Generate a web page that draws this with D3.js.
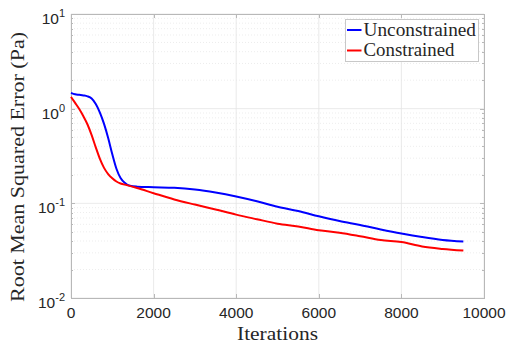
<!DOCTYPE html>
<html>
<head>
<meta charset="utf-8">
<script src="https://cdn.jsdelivr.net/npm/d3@7"></script>
<style>
  html, body { margin: 0; padding: 0; background: #fff; }
  svg { display: block; }
</style>
</head>
<body>
<svg id="chart" width="509" height="350"></svg>
<script>
// Training error history (RMSE in Pa) for the two optimisation runs
const iterations = [0, 100, 200, 300, 400, 500, 600, 700, 800, 900, 1000, 1100, 1200, 1300, 1430, 1600, 2000, 2500, 3000, 3500, 4000, 4500, 5000, 5500, 6000, 6500, 7000, 7500, 8000, 8500, 9000, 9500];
const unconstrained = [1.47, 1.42, 1.40, 1.38, 1.35, 1.28, 1.12, 0.91, 0.69, 0.49, 0.33, 0.232, 0.185, 0.165, 0.153, 0.150, 0.148, 0.146, 0.140, 0.130, 0.118, 0.105, 0.092, 0.083, 0.073, 0.065, 0.059, 0.053, 0.048, 0.044, 0.041, 0.0395];
const iterationsC = [0, 100, 200, 300, 400, 500, 600, 700, 800, 900, 1000, 1100, 1200, 1350, 1600, 2000, 2500, 3000, 3500, 4000, 4500, 5000, 5500, 6000, 6500, 7000, 7500, 8000, 8500, 9000, 9500];
const constrained = [1.33, 1.15, 0.99, 0.83, 0.68, 0.525, 0.39, 0.295, 0.237, 0.204, 0.184, 0.170, 0.162, 0.1556, 0.145, 0.128, 0.110, 0.097, 0.086, 0.076, 0.068, 0.061, 0.057, 0.052, 0.049, 0.045, 0.041, 0.039, 0.035, 0.033, 0.0317];

const seriesNames = ["Unconstrained", "Constrained"];
const seriesColors = ["#0000ff", "#ff0000"];
const xTicks = [0, 2000, 4000, 6000, 8000, 10000];
const yExponents = [1, 0, -1, -2];

const svg = d3.select("#chart");
const W = 509, H = 350;
const m = { left: 71, right: 25, top: 14, bottom: 52 };
const x0 = m.left, x1 = W - m.right, y0 = m.top, y1 = H - m.bottom;

const x = d3.scaleLinear().domain([0, 10000]).range([x0, x1]);
const y = d3.scaleLog().domain([0.01, 10]).range([y1, y0]);

const gridColor = "#e4e4e4";
const axisColor = "#b8b8b8";
const textColor = "#262626";

// Minor log grid (dotted)
const minorVals = [];
for (let e = -2; e < 1; e++) for (let k = 2; k <= 9; k++) minorVals.push(k * Math.pow(10, e));
svg.append("g").selectAll("line").data(minorVals).join("line")
  .attr("x1", x0).attr("x2", x1)
  .attr("y1", d => y(d)).attr("y2", d => y(d))
  .attr("stroke", "#e8e8e8").attr("stroke-width", 0.8).attr("stroke-dasharray", "1,2");

// Major grid
svg.append("g").selectAll("line").data(yExponents).join("line")
  .attr("x1", x0).attr("x2", x1)
  .attr("y1", d => y(Math.pow(10, d))).attr("y2", d => y(Math.pow(10, d)))
  .attr("stroke", gridColor).attr("stroke-width", 0.8);
svg.append("g").selectAll("line").data(xTicks).join("line")
  .attr("x1", d => x(d)).attr("x2", d => x(d))
  .attr("y1", y0).attr("y2", y1)
  .attr("stroke", gridColor).attr("stroke-width", 0.8);

// Axes box with mirrored ticks
const isMajor = d => yExponents.some(e => Math.abs(Math.pow(10, e) - d) < 1e-12);
const axG = svg.append("g").attr("shape-rendering", "crispEdges");
axG.append("g").attr("transform", `translate(0,${y1})`)
  .call(d3.axisBottom(x).tickValues(xTicks).tickSize(-4).tickFormat(""))
  .call(g => g.select(".domain").attr("stroke", axisColor))
  .call(g => g.selectAll(".tick line").attr("stroke", axisColor));
axG.append("g").attr("transform", `translate(0,${y0})`)
  .call(d3.axisTop(x).tickValues(xTicks).tickSize(-4).tickFormat(""))
  .call(g => g.select(".domain").attr("stroke", axisColor))
  .call(g => g.selectAll(".tick line").attr("stroke", axisColor));
const yTickVals = yExponents.map(e => Math.pow(10, e)).concat(minorVals);
axG.append("g").attr("transform", `translate(${x0},0)`)
  .call(d3.axisLeft(y).tickValues(yTickVals).tickSizeOuter(0).tickFormat(""))
  .call(g => g.select(".domain").attr("stroke", axisColor))
  .call(g => g.selectAll(".tick line").attr("stroke", axisColor)
    .attr("x2", d => isMajor(d) ? 4 : 2));
axG.append("g").attr("transform", `translate(${x1},0)`)
  .call(d3.axisRight(y).tickValues(yTickVals).tickSizeOuter(0).tickFormat(""))
  .call(g => g.select(".domain").attr("stroke", axisColor))
  .call(g => g.selectAll(".tick line").attr("stroke", axisColor)
    .attr("x2", d => isMajor(d) ? -4 : -2));

// Tick labels
const sans = "'Liberation Sans', Arial, Helvetica, sans-serif";
svg.append("g").selectAll("text").data(xTicks).join("text")
  .attr("x", d => x(d)).attr("y", y1 + 20)
  .attr("text-anchor", "middle")
  .attr("font-family", sans).attr("font-size", 15.5).attr("fill", textColor)
  .text(d => d);

const yl = svg.append("g").selectAll("text").data(yExponents).join("text")
  .attr("x", x0 - 6).attr("y", d => y(Math.pow(10, d)) + 10)
  .attr("text-anchor", "end")
  .attr("font-family", sans).attr("font-size", 15.5).attr("fill", textColor);
yl.append("tspan").text("10");
yl.append("tspan").attr("dy", -7).attr("font-size", 11).text(d => d < 0 ? "-" + (-d) : d);

// Axis titles
const serif = "'Liberation Serif', 'Times New Roman', serif";
svg.append("text")
  .attr("x", (x0 + x1) / 2).attr("y", 340)
  .attr("text-anchor", "middle")
  .attr("font-family", serif).attr("font-size", 18).attr("fill", textColor)
  .attr("textLength", 81).attr("lengthAdjust", "spacingAndGlyphs")
  .text("Iterations");
svg.append("text")
  .attr("transform", `translate(24,${(y0 + y1) / 2 + 11}) rotate(-90)`)
  .attr("text-anchor", "middle")
  .attr("font-family", serif).attr("font-size", 18).attr("fill", textColor)
  .attr("textLength", 270).attr("lengthAdjust", "spacingAndGlyphs")
  .text("Root Mean Squared Error (Pa)");

// Data lines
const series = [
  { name: seriesNames[0], color: seriesColors[0], pts: iterations.map((it, i) => [it, unconstrained[i]]) },
  { name: seriesNames[1], color: seriesColors[1], pts: iterationsC.map((it, i) => [it, constrained[i]]) }
];
const line = d3.line().x(d => x(d[0])).y(d => y(d[1])).curve(d3.curveMonotoneX);
svg.append("g").selectAll("path").data(series).join("path")
  .attr("d", d => line(d.pts))
  .attr("fill", "none").attr("stroke", d => d.color).attr("stroke-width", 2);

// Legend
const lg = svg.append("g");
lg.append("rect").attr("x", 345.5).attr("y", 19.5).attr("width", 133).attr("height", 42)
  .attr("fill", "#fff").attr("stroke", "#c8c8c8").attr("stroke-width", 1);
series.forEach((s, i) => {
  const cy = 30 + i * 20.5;
  lg.append("line").attr("x1", 347).attr("x2", 361.5).attr("y1", cy).attr("y2", cy)
    .attr("stroke", s.color).attr("stroke-width", 2);
  lg.append("text").attr("x", 363.5).attr("y", cy + 5.5)
    .attr("font-family", serif).attr("font-size", 18).attr("fill", textColor)
    .attr("textLength", i === 0 ? 112.5 : 91).attr("lengthAdjust", "spacingAndGlyphs")
    .text(s.name);
});
</script>
</body>
</html>
